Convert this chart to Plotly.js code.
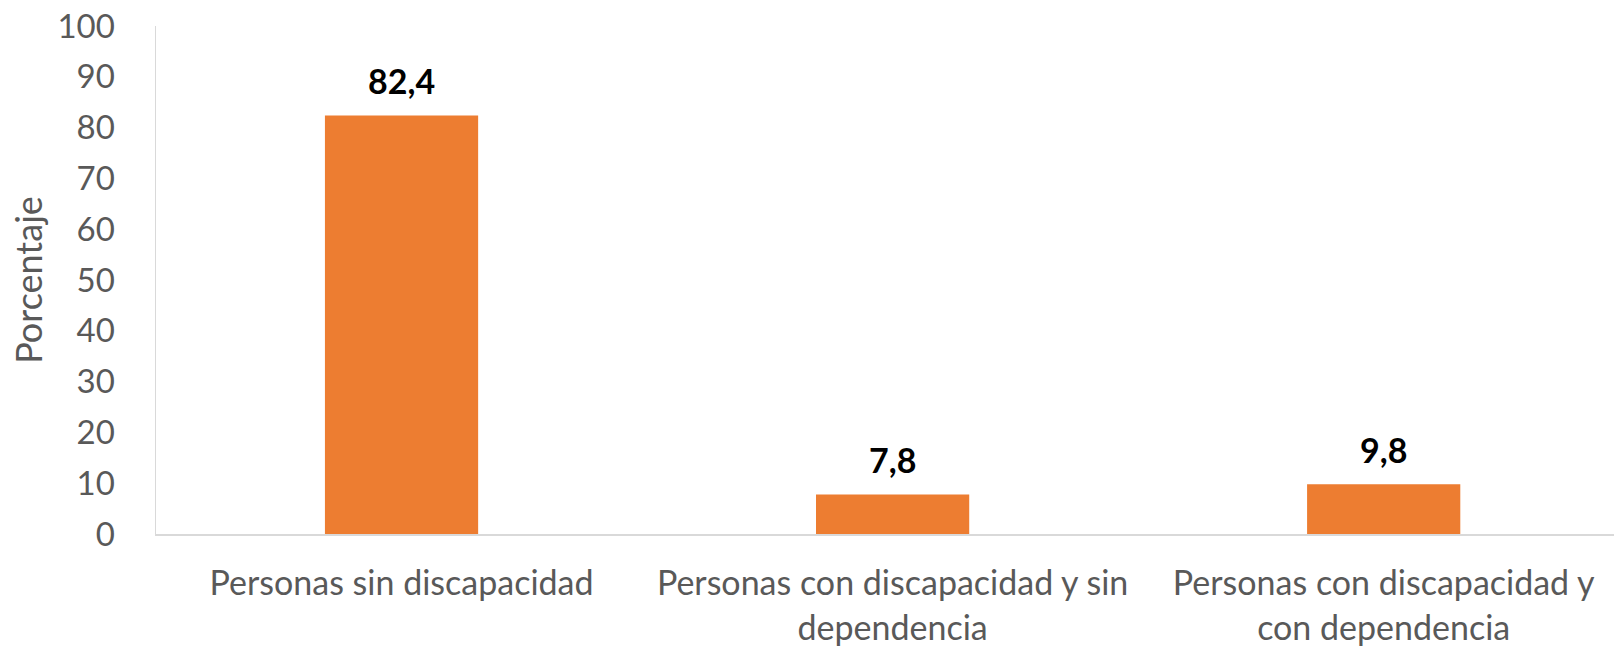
<!DOCTYPE html>
<html>
<head>
<meta charset="utf-8">
<script src="https://cdn.plot.ly/plotly-3.0.1.min.js"></script>
<style>
  html, body { margin: 0; padding: 0; background: #fff; }
  #chart { width: 1614px; height: 648px; }
</style>
</head>
<body>
<div id="chart"></div>
<script>
const categories = [
    'Personas sin discapacidad',
    'Personas con discapacidad y sin<br>dependencia',
    'Personas con discapacidad y<br>con dependencia'
];
const percentages = [82.4, 7.8, 9.8];
const yTicks = [0, 10, 20, 30, 40, 50, 60, 70, 80, 90, 100];

const fontFamily = 'Lato, "Open Sans", sans-serif';
const grey = '#595959';

const data = [{
    x: categories,
    y: percentages,
    type: 'bar',
    width: 0.312,
    marker: { color: '#ED7D31' },
    hoverinfo: 'x+y',
}];

// value labels above the bars, with a comma as decimal separator
const labels = categories.map((c, i) => ({
    x: c,
    y: percentages[i],
    text: '<b>' + percentages[i].toFixed(1).replace('.', ',') + '</b>',
    showarrow: false,
    yanchor: 'middle',
    yshift: 35,
    font: { family: fontFamily, size: 34, color: '#000' },
}));

const layout = {
    width: 1614,
    height: 648,
    margin: { l: 156, r: 0, t: 26, b: 114 },
    paper_bgcolor: '#fff',
    plot_bgcolor: '#fff',
    showlegend: false,
    separators: ',.',
    font: { family: fontFamily, size: 34, color: grey },
    xaxis: {
        type: 'category',
        range: [-0.5, 2.469],
        showgrid: false,
        zeroline: false,
        showline: true,
        linecolor: '#d9d9d9',
        linewidth: 1.5,
        ticks: '',
        ticklabelstandoff: 19,
        tickfont: { family: fontFamily, size: 34, color: grey },
    },
    yaxis: {
        range: [0, 100],
        tickvals: yTicks,
        showgrid: false,
        zeroline: false,
        showline: true,
        linecolor: '#d9d9d9',
        linewidth: 1.5,
        ticks: '',
        ticklabelstandoff: 33,
        tickfont: { family: fontFamily, size: 33, color: grey },
        title: {
            text: 'Porcentaje',
            standoff: 4,
            font: { family: fontFamily, size: 36, color: grey },
        },
    },
    annotations: labels,
};

Plotly.newPlot('chart', data, layout, { displayModeBar: false, staticPlot: true });
</script>
</body>
</html>
